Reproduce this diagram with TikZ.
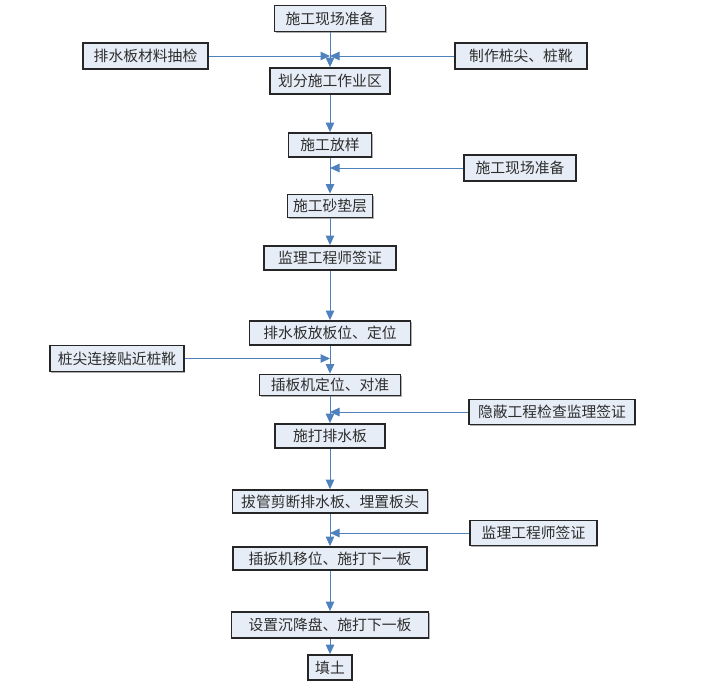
\documentclass[tikz,border=0pt]{standalone}
\usepackage{fontspec}
\newfontfamily\cjk{Noto Sans CJK SC}
\usetikzlibrary{arrows.meta,shadows}
\definecolor{boxfill}{RGB}{231,237,246}
\definecolor{boxline}{RGB}{38,38,38}
\definecolor{flow}{RGB}{79,129,189}
\definecolor{txt}{RGB}{45,45,45}
\tikzset{
  stepbox/.style={draw=boxline, line width=1.8pt, fill=boxfill, text=txt,
    inner sep=0pt, font=\cjk\fontsize{14.8}{15}\selectfont,
    drop shadow={shadow xshift=1pt, shadow yshift=-1pt, fill=black!45, opacity=0.7}},
  flowline/.style={draw=flow, line width=1pt, -{Triangle[length=9.5pt,width=8.5pt]}, shorten >=0pt}
}
\begin{document}
\begin{tikzpicture}[x=1pt,y=-1pt]
\useasboundingbox (0,0) rectangle (706,683);
% main column
\node[stepbox, minimum width=111pt, minimum height=26pt] (t1) at (330,18.5) {施工现场准备};
\node[stepbox, minimum width=120pt, minimum height=26pt] (b2) at (330,81) {划分施工作业区};
\node[stepbox, minimum width=83pt, minimum height=24pt] (b3) at (330,145) {施工放样};
\node[stepbox, minimum width=85pt, minimum height=23pt] (b4) at (330,206) {施工砂垫层};
\node[stepbox, minimum width=132pt, minimum height=24pt] (b5) at (330,258) {监理工程师签证};
\node[stepbox, minimum width=161pt, minimum height=24pt] (b6) at (330,333) {排水板放板位、定位};
\node[stepbox, minimum width=141pt, minimum height=21pt] (b7) at (330,385) {插板机定位、对准};
\node[stepbox, minimum width=110pt, minimum height=24pt] (b8) at (330,436) {施打排水板};
\node[stepbox, minimum width=195pt, minimum height=23pt] (b9) at (330,501.5) {拔管剪断排水板、埋置板头};
\node[stepbox, minimum width=194pt, minimum height=23pt] (b10) at (330,558.5) {插扳机移位、施打下一板};
\node[stepbox, minimum width=197pt, minimum height=26pt] (b11) at (330,625) {设置沉降盘、施打下一板};
\node[stepbox, minimum width=44pt, minimum height=25pt] (b12) at (330,667.5) {填土};
% side boxes
\node[stepbox, minimum width=125pt, minimum height=26pt] (l1) at (145.5,56) {排水板材料抽检};
\node[stepbox, minimum width=132pt, minimum height=26pt] (r1) at (521,56) {制作桩尖、桩靴};
\node[stepbox, minimum width=112pt, minimum height=26pt] (r3) at (520,168) {施工现场准备};
\node[stepbox, minimum width=134pt, minimum height=26pt] (l6) at (117,358.5) {桩尖连接贴近桩靴};
\node[stepbox, minimum width=166pt, minimum height=25pt] (r7) at (552,412) {隐蔽工程检查监理签证};
\node[stepbox, minimum width=127pt, minimum height=25pt] (r9) at (533.5,533) {监理工程师签证};
% vertical flow
\draw[flowline] (t1.south) -- (b2.north);
\draw[flowline] (b2.south) -- (b3.north);
\draw[flowline] (b3.south) -- (b4.north);
\draw[flowline] (b4.south) -- (b5.north);
\draw[flowline] (b5.south) -- (b6.north);
\draw[flowline] (b6.south) -- (b7.north);
\draw[flowline] (b7.south) -- (b8.north);
\draw[flowline] (b8.south) -- (b9.north);
\draw[flowline] (b9.south) -- (b10.north);
\draw[flowline] (b10.south) -- (b11.north);
\draw[flowline] (b11.south) -- (b12.north);
% side inputs
\draw[flowline] (l1.east) -- (l1.east -| t1.south);
\draw[flowline] (r1.west) -- (r1.west -| t1.south);
\draw[flowline] (r3.west) -- (r3.west -| b3.south);
\draw[flowline] (l6.east) -- (l6.east -| b6.south);
\draw[flowline] (r7.west) -- (r7.west -| b7.south);
\draw[flowline] (r9.west) -- (r9.west -| b9.south);
\end{tikzpicture}
\end{document}
